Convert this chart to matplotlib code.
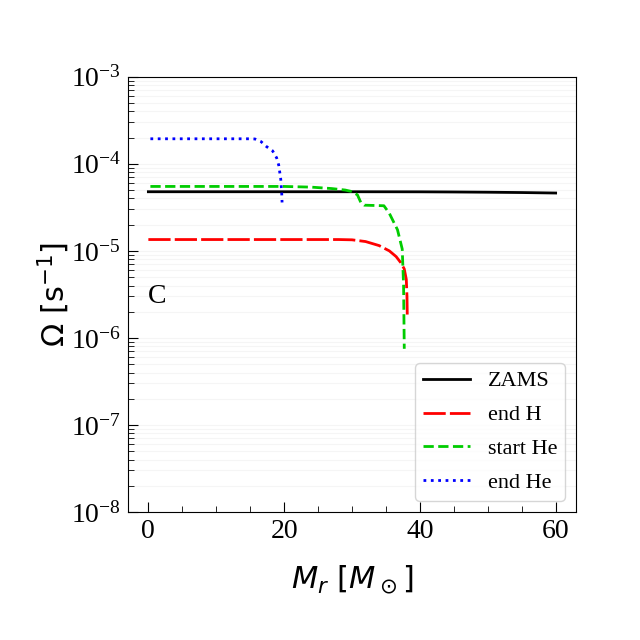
import matplotlib
matplotlib.use('Agg')
import matplotlib.pyplot as plt
from matplotlib.ticker import MultipleLocator, LogLocator

plt.rcParams['font.family'] = ['Liberation Serif', 'DejaVu Serif']

# profiles
zams_m = [0, 10, 20, 30, 40, 45, 50, 55, 60]
zams_w = [4.78e-5, 4.78e-5, 4.78e-5, 4.78e-5, 4.77e-5, 4.75e-5, 4.72e-5, 4.68e-5, 4.62e-5]

endh_m = [0, 10, 20, 28, 30, 32, 34, 35.5, 36.5, 37.2, 37.7, 38.0, 38.1, 38.15]
endh_w = [1.35e-5, 1.35e-5, 1.35e-5, 1.35e-5, 1.34e-5, 1.28e-5, 1.15e-5, 1.0e-5,
          8.6e-6, 7.3e-6, 6.2e-6, 4.7e-6, 3.0e-6, 1.7e-6]

starthe_m = [0.3, 10, 20, 24, 27, 29, 30, 30.8, 31.3, 31.8, 34.7, 35.5, 36.7, 37.4, 37.6, 37.7]
starthe_w = [5.5e-5, 5.5e-5, 5.5e-5, 5.4e-5, 5.2e-5, 5.0e-5, 4.8e-5, 4.4e-5, 3.6e-5,
             3.35e-5, 3.3e-5, 2.7e-5, 1.75e-5, 1.05e-5, 4e-6, 7.5e-7]

endhe_m = [0.3, 5, 10, 15, 15.7, 16.6, 17.4, 18.3, 18.9, 19.2, 19.5, 19.65, 19.7]
endhe_w = [1.94e-4, 1.94e-4, 1.94e-4, 1.94e-4, 1.93e-4, 1.8e-4, 1.58e-4, 1.41e-4,
           1.17e-4, 9.7e-5, 6.7e-5, 4.5e-5, 3.6e-5]

fig = plt.figure(figsize=(6.4, 6.4), dpi=100)
ax = fig.add_subplot(111)
fig.subplots_adjust(left=0.2, right=0.9, bottom=0.2, top=0.88)

ax.plot(zams_m, zams_w, color='k', lw=2, label='ZAMS')
ax.plot(endh_m, endh_w, color='r', lw=2, dashes=(8, 1.5), label='end H')
ax.plot(starthe_m, starthe_w, color=(0.0, 0.8, 0.0), lw=2, ls='--', label='start He')
ax.plot(endhe_m, endhe_w, color='b', lw=2, ls=':', label='end He')

ax.set_yscale('log')
ax.set_ylim(1e-8, 1e-3)
ax.xaxis.set_minor_locator(MultipleLocator(5))
ax.yaxis.set_major_locator(LogLocator(base=10, numticks=10))
ax.yaxis.set_minor_locator(LogLocator(base=10, subs=range(2, 10), numticks=20))
ax.tick_params(which='both', direction='in', labelsize=20)
ax.tick_params(which='major', length=7, pad=5)
ax.tick_params(which='minor', length=4)
ax.yaxis.grid(True, which='both', color='0.96', lw=0.8)
ax.set_axisbelow(True)

ax.set_xlabel(r'$M_r\ [M_\odot]$', fontsize=22, labelpad=14)
ax.set_ylabel(r'$\Omega\ [\rm s^{-1}]$', fontsize=22, labelpad=-1)
ax.text(0.045, 0.495, 'C', transform=ax.transAxes, fontsize=20, va='center')

ax.legend(loc='lower right', fontsize=16, handlelength=2.1,
          labelspacing=0.6, borderpad=0.35)

fig.savefig('out.png', dpi=100)
